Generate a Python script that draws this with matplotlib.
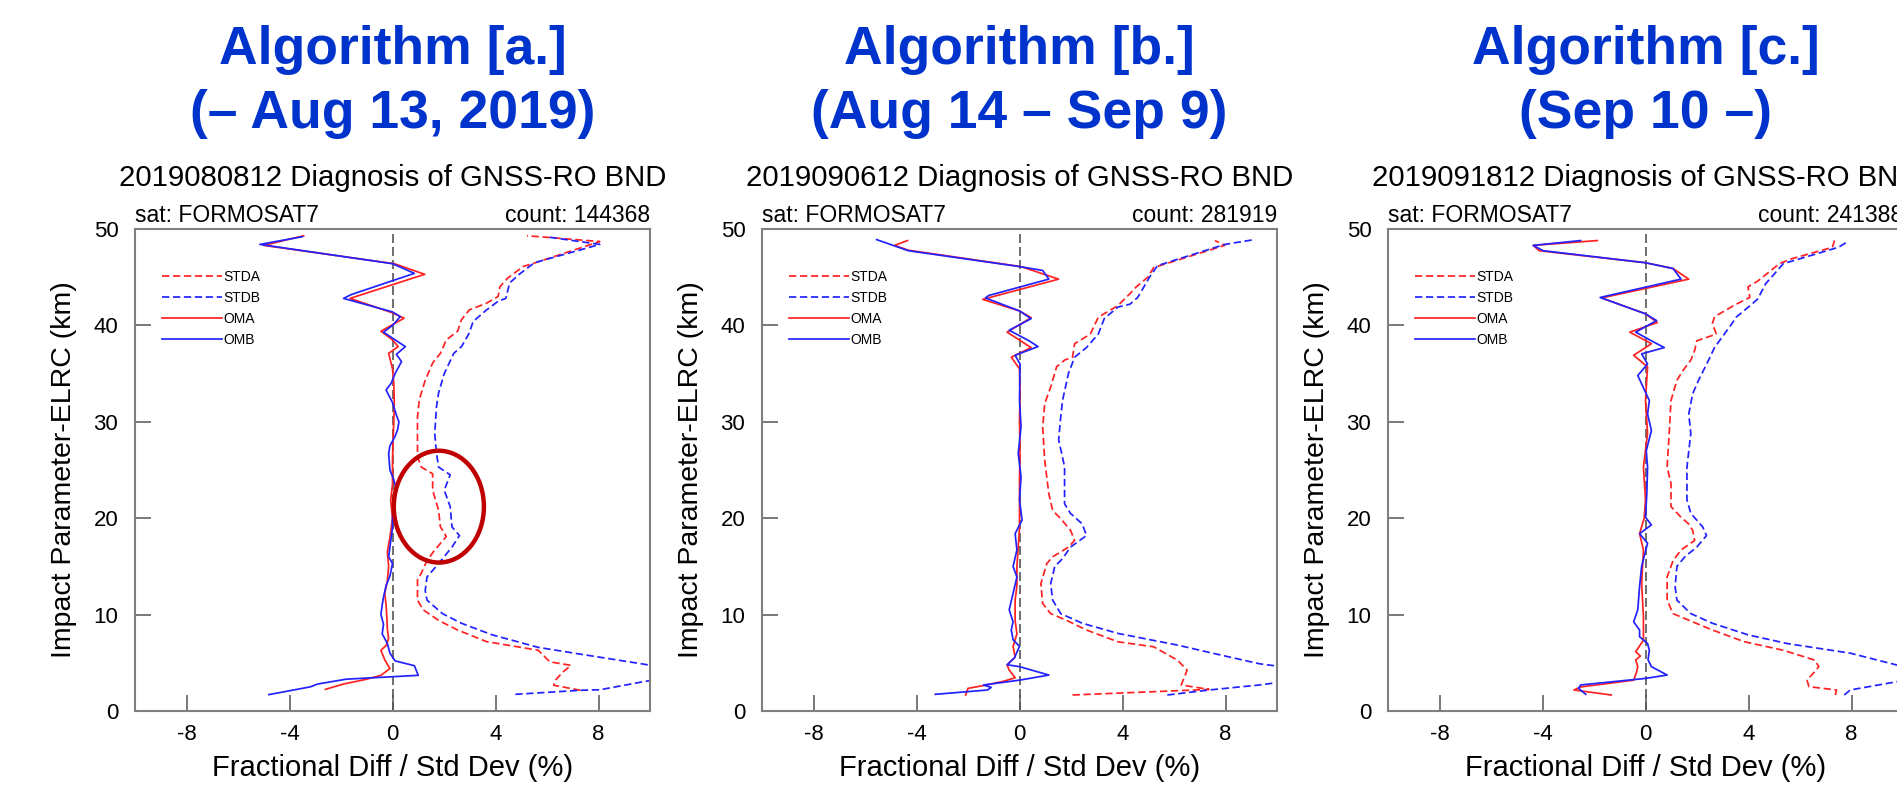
import numpy as np
import matplotlib.pyplot as plt
from matplotlib.patches import Ellipse

plt.rcParams['font.family'] = ['Liberation Sans', 'DejaVu Sans']
plt.rcParams['axes.unicode_minus'] = False

# header text over each panel
headers = [("Algorithm [a.]", "(– Aug 13, 2019)"),
           ("Algorithm [b.]", "(Aug 14 – Sep 9)"),
           ("Algorithm [c.]", "(Sep 10 –)")]
dates = ["2019080812", "2019090612", "2019091812"]
counts = [144368, 281919, 241388]
sat_name = "FORMOSAT7"
labels = ["STDA", "STDB", "OMA", "OMB"]

# profiles: (impact parameter km, value %)
a_stda = [(2.15, 7.3), (2.67, 6.26), (3.2, 6.33), (4.0, 6.6), (4.74, 6.93), (5.1, 6.11), (6.3, 5.66),
          (7.2, 3.65), (8.4, 2.53), (9.4, 1.79), (10.5, 1.19), (11.5, 0.97), (13.6, 0.97), (14.3, 1.12),
          (15.6, 1.34), (16.7, 1.64), (18.1, 2.09), (19.1, 1.86), (20.8, 1.79), (22.9, 1.56), (24.6, 1.56),
          (25.3, 1.12), (26.4, 0.97), (30.5, 0.97), (32.3, 1.04), (34.3, 1.27), (36.1, 1.56), (37.1, 1.86),
          (38.5, 2.09), (39.4, 2.53), (40.6, 2.68), (41.6, 2.98), (42.3, 3.65), (43.0, 4.1), (44.0, 4.17),
          (44.9, 4.47), (46.1, 5.07), (46.6, 5.66), (48.7, 8.05), (49.3, 5.22)]
a_stdb = [(1.73, 4.77), (2.15, 7.3), (2.2, 8.05), (3.0, 9.66), (3.6, 11.0), (4.3, 11.0), (4.9, 9.66),
          (5.96, 7.15), (6.6, 5.66), (7.9, 3.87), (9.1, 2.68), (10.1, 1.94), (11.5, 1.34), (12.5, 1.27),
          (13.9, 1.34), (15.3, 1.79), (17.0, 2.31), (18.2, 2.6), (19.1, 2.31), (21.2, 2.24), (22.9, 2.01),
          (24.5, 2.24), (25.3, 1.79), (26.7, 1.71), (28.8, 1.64), (31.6, 1.71), (33.0, 1.79), (35.0, 2.01),
          (37.1, 2.38), (37.8, 2.68), (39.2, 2.98), (40.4, 3.13), (41.6, 3.65), (42.5, 4.1), (42.8, 4.4),
          (44.4, 4.55), (45.3, 4.92), (46.5, 5.51), (48.4, 8.05), (49.2, 5.96)]
a_oma = [(2.25, -2.6), (2.8, -1.9), (3.3, -1.0), (3.7, -0.45), (4.4, -0.1), (5.3, -0.3), (6.3, -0.45),
         (6.8, -0.25), (7.5, -0.15), (8.5, -0.2), (9.8, -0.22), (11.0, -0.25), (12.2, -0.3), (13.5, -0.2),
         (15.0, -0.15), (16.5, -0.2), (18.0, -0.1), (20.0, 0.0), (21.9, -0.07), (23.5, 0.0), (26.0, 0.0),
         (28.0, 0.02), (30.0, 0.05), (32.0, 0.07), (34.0, 0.05), (35.5, 0.0), (37.1, -0.15), (37.8, 0.22),
         (38.5, 0.0), (39.4, -0.45), (40.75, 0.45), (41.3, 0.0), (42.8, -1.65), (45.3, 1.25), (46.4, 0.07),
         (48.3, -5.0), (49.3, -3.45)]
a_omb = [(1.7, -4.8), (2.5, -3.2), (2.8, -2.9), (3.3, -1.8), (3.6, 0.3), (3.7, 1.0), (4.7, 0.85),
         (5.2, 0.1), (6.0, -0.1), (7.0, -0.2), (8.0, -0.4), (9.0, -0.35), (10.0, -0.45), (11.0, -0.4),
         (11.8, -0.35), (13.0, -0.25), (14.0, -0.1), (15.3, 0.0), (16.0, -0.15), (17.0, -0.1), (18.0, -0.05),
         (19.0, 0.0), (20.0, 0.0), (21.0, 0.02), (22.0, 0.1), (22.9, 0.15), (24.0, 0.05), (25.0, -0.1),
         (26.7, -0.15), (27.5, -0.1), (28.5, 0.1), (29.2, 0.2), (30.0, 0.25), (30.7, 0.15), (32.0, 0.0),
         (33.3, -0.25), (34.0, -0.05), (35.0, 0.1), (36.25, 0.35), (37.0, 0.15), (37.8, 0.5), (38.5, 0.1),
         (39.3, -0.35), (40.0, 0.0), (40.9, 0.3), (41.4, 0.0), (42.8, -1.9), (43.2, -1.6), (45.4, 0.85),
         (46.4, 0.0), (48.4, -5.15), (49.2, -3.5)]

b_stda = [(1.66, 2.06), (2.24, 7.36), (2.7, 6.28), (3.5, 6.4), (4.25, 6.51), (5.28, 6.13), (6.66, 5.21),
          (7.18, 3.82), (8.4, 2.6), (9.4, 1.83), (10.1, 1.21), (11.15, 0.9), (13.2, 0.83), (15.3, 1.06),
          (16.0, 1.29), (17.0, 1.9), (17.7, 2.14), (18.75, 1.98), (19.95, 1.6), (20.8, 1.29), (22.5, 1.14),
          (26.0, 0.98), (29.45, 0.9), (31.9, 0.98), (33.6, 1.21), (35.7, 1.44), (36.4, 1.75), (36.7, 2.06),
          (38.1, 2.14), (39.1, 2.75), (40.85, 3.06), (42.05, 3.82), (43.3, 4.29), (43.96, 4.52), (45.0, 4.98),
          (46.0, 5.21), (48.3, 7.97), (48.8, 7.59)]
b_stdb = [(1.66, 5.74), (2.18, 7.36), (2.7, 9.32), (3.3, 11.0), (4.3, 11.0), (4.9, 9.32), (5.8, 7.82),
          (6.84, 6.13), (8.05, 3.82), (9.1, 2.44), (10.1, 1.6), (11.5, 1.29), (13.2, 1.21), (15.0, 1.37),
          (15.8, 1.67), (17.0, 1.98), (18.2, 2.6), (19.4, 2.44), (20.5, 1.98), (21.5, 1.75), (25.3, 1.75),
          (26.35, 1.67), (28.1, 1.52), (30.5, 1.6), (32.2, 1.67), (35.0, 1.9), (36.7, 2.14), (37.7, 2.6),
          (39.1, 3.06), (40.7, 3.29), (41.9, 3.82), (42.2, 4.29), (42.9, 4.59), (45.0, 5.05), (46.2, 5.36),
          (48.4, 7.97), (48.9, 9.12)]
b_oma = [(1.66, -2.09), (2.35, -2.0), (2.7, -1.27), (3.1, -0.6), (3.45, -0.17), (4.25, -0.4), (4.77, -0.48),
         (5.6, -0.17), (6.7, -0.25), (8.0, -0.1), (9.4, -0.17), (11.5, -0.17), (13.0, -0.1), (15.0, -0.1),
         (17.0, -0.05), (19.0, 0.0), (21.0, 0.0), (24.0, 0.0), (27.0, 0.02), (30.0, 0.0), (33.0, 0.02),
         (35.5, 0.0), (36.7, -0.32), (37.7, 0.45), (39.3, -0.48), (40.8, 0.45), (41.5, 0.0), (42.7, -1.43),
         (44.8, 1.52), (46.1, 0.06), (47.8, -4.32), (48.3, -4.85), (48.8, -4.35)]
b_omb = [(1.73, -3.27), (2.18, -1.24), (2.45, -1.1), (2.7, -1.4), (3.2, 0.0), (3.73, 1.14), (4.6, 0.0),
         (4.8, -0.48), (5.5, -0.2), (6.7, 0.0), (7.4, -0.25), (8.4, -0.32), (9.25, -0.25), (10.5, -0.4),
         (12.2, -0.25), (13.9, -0.1), (15.0, -0.25), (16.7, -0.1), (18.4, -0.17), (19.8, 0.1), (21.9, 0.0),
         (24.3, 0.06), (26.7, -0.05), (29.5, 0.06), (32.2, 0.0), (36.0, 0.02), (36.9, -0.17), (37.8, 0.72),
         (38.4, 0.37), (39.5, -0.4), (40.7, 0.45), (41.5, 0.0), (42.85, -1.32), (43.1, -1.2), (44.8, 1.14),
         (45.7, 0.9), (46.1, 0.0), (47.75, -4.32), (48.9, -5.55)]

c_stda = [(1.66, 7.37), (2.18, 7.42), (2.52, 6.35), (3.2, 6.27), (4.07, 6.57), (4.6, 6.73), (5.28, 6.57),
          (6.3, 5.35), (7.2, 3.82), (8.4, 2.6), (9.25, 1.83), (10.1, 1.07), (11.5, 0.84), (13.9, 0.84),
          (15.6, 1.07), (16.7, 1.38), (17.7, 1.91), (18.75, 1.83), (19.4, 1.68), (20.1, 1.38), (21.2, 0.99),
          (23.6, 0.99), (25.3, 0.84), (28.8, 0.92), (32.2, 0.99), (34.3, 1.22), (35.3, 1.45), (36.4, 1.76),
          (37.4, 1.91), (38.4, 1.99), (39.1, 2.75), (40.2, 2.6), (40.9, 2.68), (42.2, 3.52), (42.9, 4.05),
          (44.0, 3.98), (44.6, 4.36), (46.4, 5.2), (46.9, 5.66), (48.1, 7.26), (48.8, 7.34)]
c_stdb = [(1.66, 7.72), (2.18, 7.95), (3.04, 9.76), (3.6, 11.0), (4.2, 11.0), (4.77, 9.76), (6.0, 7.95),
          (7.0, 5.5), (7.9, 3.98), (9.1, 2.6), (10.1, 1.76), (11.5, 1.22), (12.9, 1.15), (15.0, 1.22),
          (16.0, 1.53), (17.0, 1.99), (18.2, 2.37), (19.1, 2.22), (20.5, 1.76), (21.9, 1.61), (25.3, 1.61),
          (28.8, 1.76), (30.8, 1.68), (32.9, 1.83), (34.3, 2.06), (36.4, 2.45), (37.7, 2.68), (40.2, 3.36),
          (40.85, 3.52), (42.2, 4.13), (42.75, 4.36), (44.3, 4.66), (46.4, 5.35), (48.1, 7.49), (48.6, 7.8)]
c_oma = [(1.66, -1.33), (2.18, -2.78), (2.5, -2.5), (3.2, -0.46), (4.0, -0.35), (4.6, -0.3), (5.3, -0.38),
         (5.7, -0.2), (6.15, -0.38), (7.35, -0.08), (9.8, -0.08), (13.2, -0.15), (16.7, -0.08), (18.4, -0.23),
         (20.0, -0.05), (21.9, 0.0), (25.3, -0.08), (28.8, 0.08), (32.2, 0.0), (35.7, 0.08), (36.9, -0.46),
         (38.1, 0.23), (39.3, -0.61), (40.3, 0.46), (41.2, 0.0), (42.85, -1.71), (44.8, 1.68), (45.9, 1.07),
         (46.5, 0.0), (47.75, -4.13), (48.3, -4.36), (48.8, -1.87)]
c_omb = [(1.73, -2.32), (2.35, -2.6), (2.7, -2.52), (3.38, 0.0), (3.73, 0.84), (4.6, 0.23), (5.3, 0.1),
         (6.3, 0.15), (7.0, 0.08), (7.7, -0.23), (8.4, -0.23), (9.25, -0.46), (10.5, -0.3), (12.9, -0.23),
         (15.0, -0.15), (17.4, 0.08), (18.4, -0.23), (19.3, 0.23), (20.1, 0.0), (22.5, 0.05), (25.3, 0.08),
         (27.0, 0.03), (29.1, 0.23), (30.8, 0.08), (32.2, 0.15), (34.8, -0.3), (36.0, 0.08), (37.05, -0.15),
         (37.7, 0.73), (38.4, 0.23), (39.3, -0.38), (40.5, 0.43), (41.2, 0.0), (42.9, -1.76), (44.8, 1.38),
         (45.9, 1.07), (46.5, 0.0), (47.75, -3.98), (48.3, -4.36), (48.8, -2.52)]

panels = [(a_stda, a_stdb, a_oma, a_omb),
          (b_stda, b_stdb, b_oma, b_omb),
          (c_stda, c_stdb, c_oma, c_omb)]

RED = '#FF2222'
BLUE = '#2222FF'
styles = [dict(color=RED, dashes=(4.2, 2.1)), dict(color=BLUE, dashes=(4.2, 2.1)),
          dict(color=RED), dict(color=BLUE)]

W, H = 1897, 794
fig = plt.figure(figsize=(W / 100, H / 100), dpi=100)
lefts = [135, 762, 1388]
ax_w, ax_top, ax_bot = 515, 229, 711
ax_h = ax_bot - ax_top

def fy(pix):
    # pixel row -> axes fraction
    return (ax_bot - pix) / ax_h

for i, left in enumerate(lefts):
    ax = fig.add_axes([left / W, 1 - ax_bot / H, ax_w / W, ax_h / H])
    handles = []
    for prof, st in zip(panels[i], styles):
        arr = np.array(prof)
        ln, = ax.plot(arr[:, 1], arr[:, 0], lw=1.25, **st)
        handles.append(ln)
    ax.axvline(0, color='#555555', lw=1.2, dashes=(5.4, 2.4), zorder=1)

    ax.set_xlim(-10, 10)
    ax.set_ylim(0, 50)
    ax.set_xticks([-8, -4, 0, 4, 8])
    ax.set_yticks(range(0, 51, 10))
    ax.tick_params(direction='in', length=11.5, width=1.1, color='#555555', labelsize=16)
    ax.tick_params(axis='x', pad=9)
    ax.tick_params(axis='y', pad=12)
    for sp in ax.spines.values():
        sp.set_color('#808080')
        sp.set_linewidth(1.5)

    ax.set_xlabel('Fractional Diff / Std Dev (%)', fontsize=21)
    ax.xaxis.set_label_coords(0.5, -0.09)
    ax.set_ylabel('Impact Parameter-ELRC (km)', fontsize=20.5)
    ax.yaxis.set_label_coords(-0.113, 0.5)

    ax.legend(handles, labels, loc='upper left', bbox_to_anchor=(0.052, 0.915), frameon=False,
              fontsize=10, handlelength=4.3, handletextpad=0.15, labelspacing=0.5,
              borderaxespad=0, borderpad=0)

    ax.text(0.5, fy(186), f"{dates[i]} Diagnosis of GNSS-RO BND", transform=ax.transAxes,
            ha='center', va='baseline', fontsize=21.2)
    ax.text(0, fy(222), f"sat: {sat_name}", transform=ax.transAxes,
            ha='left', va='baseline', fontsize=16.5)
    ax.text(1, fy(222), f"count: {counts[i]}", transform=ax.transAxes,
            ha='right', va='baseline', fontsize=16.5)
    ax.text(0.5, fy(64), headers[i][0], transform=ax.transAxes, ha='center', va='baseline',
            fontsize=38.5, fontweight='bold', color='#0033CC')
    ax.text(0.5, fy(128), headers[i][1], transform=ax.transAxes, ha='center', va='baseline',
            fontsize=38.5, fontweight='bold', color='#0033CC')

    if i == 0:
        # red circle highlighting the 15-27 km bump
        ax.add_patch(Ellipse((1.8, 21.2), 3.5, 11.6, fill=False, edgecolor='#C00000', lw=3.2, zorder=5))

fig.savefig('out.png', dpi=100)
